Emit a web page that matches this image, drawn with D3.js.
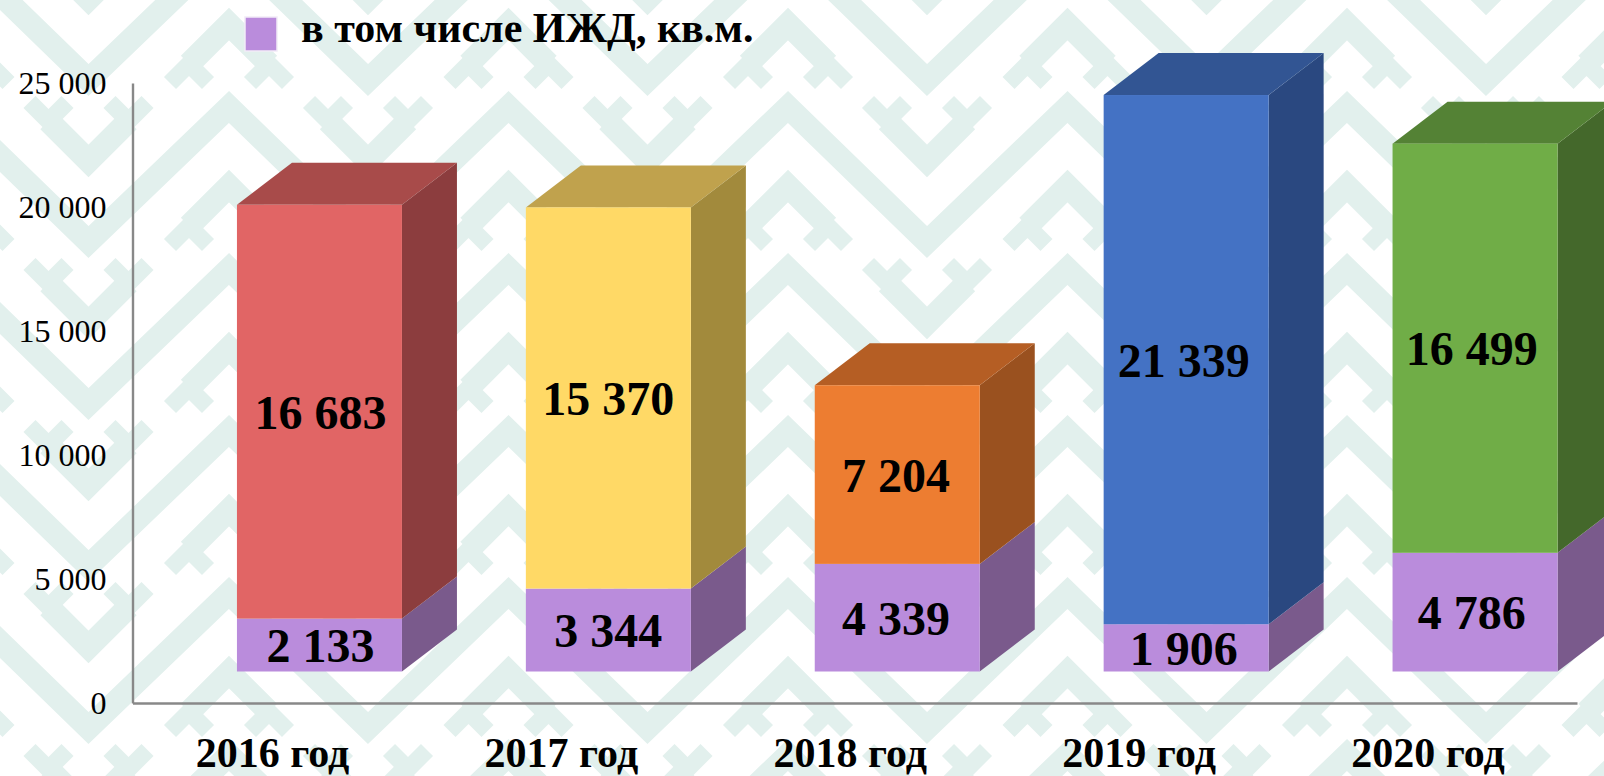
<!DOCTYPE html>
<html lang="ru"><head><meta charset="utf-8">
<script src="https://cdn.jsdelivr.net/npm/d3@7"></script>
<style>html,body{margin:0;padding:0;background:#fff;overflow:hidden}svg{display:block}text{font-family:"Liberation Serif","Times New Roman",serif;fill:#000}</style>
</head><body><svg id="c" width="1604" height="776"></svg>
<script>
const categories = ["2016 год","2017 год","2018 год","2019 год","2020 год"];
const totalOther = [16683,15370,7204,21339,16499];
const izhd = [2133,3344,4339,1906,4786];
const yTicks = [0,5000,10000,15000,20000,25000];
const legendLabel = "в том числе ИЖД, кв.м.";
const frontColors = ["#E16565","#FFD966","#ED7D31","#4472C4","#70AD47"];
const topColors = ["#A84B4A","#C0A24D","#B55E24","#325593","#548235"];
const sideColors = ["#8C3D3E","#A28A3C","#9A511F","#2A4880","#44682B"];
const izhdFront = "#BA8CDC", izhdSide = "#7A5A8C";

const W=1604,H=776;
const svg=d3.select("#c");
svg.append("rect").attr("width",W).attr("height",H).attr("fill","#fff");

// ornamental background: repeating tile of a long zigzag and two forked chevrons
const bg=svg.append("g").attr("fill","none").attr("stroke","#e2f0ed").attr("stroke-linejoin","miter").attr("stroke-linecap","butt");
const PX=279.5,PY=162;
const peakX=788-3*PX, valleyX=927-3*PX;
for(let r=-2;r<6;r++){
  const pts=[];
  for(let k=0;k<7;k++){pts.push([peakX+k*PX,107+r*PY]);pts.push([valleyX+k*PX,242+r*PY]);}
  bg.append("path").attr("d",d3.line()(pts)).attr("stroke-width",23);
}
function motif(cx,cy,dir){ // dir=1: peak with arms downward; dir=-1: valley with arms upward
  const a=40,f=19;
  bg.append("path").attr("stroke-width",23).attr("stroke-linejoin","miter")
    .attr("d",`M${cx-a} ${cy+dir*a}L${cx} ${cy}L${cx+a} ${cy+dir*a}`);
  [-1,1].forEach(s=>{
    const ex=cx+s*a,ey=cy+dir*a;
    bg.append("path").attr("stroke-width",17)
      .attr("d",`M${ex-f} ${ey+dir*f}L${ex} ${ey}L${ex+f} ${ey+dir*f}`);
  });
}
for(let j=-1;j<6;j++)for(let k=0;k<7;k++){
  motif(peakX+k*PX,24+j*PY,1);
  motif(valleyX+k*PX,161+j*PY,-1);
}

// scales
const yMax=25000;
const y=d3.scaleLinear().domain([0,yMax]).range([703,83]);
const x=d3.scaleBand().domain(categories).range([132.5,1577]).padding(0);
const barW=165,barShift=42.5,floor=31.5,dx=55,dy=42;
const barX=c=>x(c)+x.bandwidth()/2+barShift-barW/2;
const by=v=>y(v)-floor;

// bars
const rows=categories.map((c,i)=>({c,i,a:izhd[i],b:totalOther[i]}));
const g=svg.append("g");
const poly=p=>"M"+p.map(q=>q.join(",")).join("L")+"Z";
const bars=g.selectAll("g").data(rows).join("g");
bars.each(function(d){
  const s=d3.select(this),l=barX(d.c),r=l+barW;
  const y0=by(0),y1=by(d.a),y2=by(d.a+d.b);
  s.append("path").attr("d",poly([[r,y0],[r+dx,y0-dy],[r+dx,y1-dy],[r,y1]])).attr("fill",izhdSide);
  s.append("path").attr("d",poly([[r,y1],[r+dx,y1-dy],[r+dx,y2-dy],[r,y2]])).attr("fill",sideColors[d.i]);
  s.append("path").attr("d",poly([[l,y2],[l+dx,y2-dy],[r+dx,y2-dy],[r,y2]])).attr("fill",topColors[d.i]);
  s.append("rect").attr("x",l).attr("y",y1).attr("width",barW).attr("height",y0-y1).attr("fill",izhdFront);
  s.append("rect").attr("x",l).attr("y",y2).attr("width",barW).attr("height",y1-y2).attr("fill",frontColors[d.i]);
  const f=v=>d3.format(",")(v).replace(/,/g," ");
  [[d.a,(y0+y1)/2],[d.b,(y1+y2)/2]].forEach(([v,cy])=>{
    s.append("text").attr("x",(l+r)/2+1-d.i*1.1).attr("y",cy+17).attr("text-anchor","middle")
      .attr("font-size",48).attr("font-weight","bold").text(f(v));
  });
});

// axes
const yAxis=d3.axisLeft(y).tickValues(yTicks).tickSize(0).tickPadding(26)
  .tickFormat(v=>d3.format(",")(v).replace(/,/g," "));
const ya=svg.append("g").attr("transform","translate(132.5,0)").call(yAxis);
ya.select(".domain").attr("stroke","#888").attr("stroke-width",2.4);
ya.selectAll("text").attr("font-size",32).attr("fill","#000").attr("dy","0.33em");
const xAxis=d3.axisBottom(x).tickSize(0).tickPadding(0);
const xa=svg.append("g").attr("transform","translate(0,703)").call(xAxis);
xa.select(".domain").attr("stroke","#888").attr("stroke-width",2.4);
xa.selectAll("text").attr("font-size",42).attr("font-weight","bold").attr("fill","#000")
  .attr("dx",-4.5).attr("dy",0).attr("y",63.5);
ya.attr("font-family",null);xa.attr("font-family",null);

// legend
svg.append("rect").attr("x",245).attr("y",17).attr("width",32).attr("height",34).attr("fill",izhdFront).attr("stroke","#f2ecf7").attr("stroke-width",1.5);
svg.append("text").attr("x",301).attr("y",42).attr("font-size",42).attr("font-weight","bold").text(legendLabel);
</script></body></html>
